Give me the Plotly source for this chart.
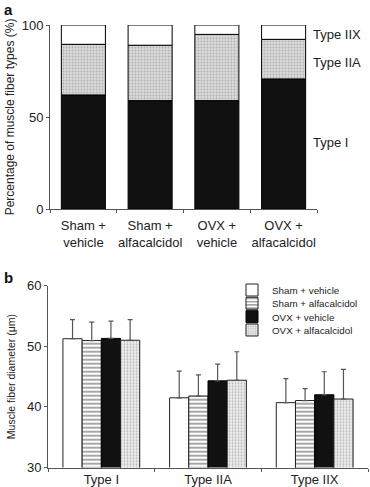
import plotly.graph_objects as go

# ---- Panel a data ----
groups_a = ["Sham +<br>vehicle", "Sham +<br>alfacalcidol", "OVX +<br>vehicle", "OVX +<br>alfacalcidol"]
type_I_pct = [62.0, 58.9, 58.9, 70.7]
type_IIA_pct = [27.5, 30.1, 36.0, 21.5]
type_IIX_pct = [10.5, 11.0, 5.1, 7.8]

# ---- Panel b data ----
fiber_types = ["Type I", "Type IIA", "Type IIX"]
series_names = ["Sham + vehicle", "Sham + alfacalcidol", "OVX + vehicle", "OVX + alfacalcidol"]
sham_vehicle = [51.25, 41.5, 40.7]
sham_vehicle_sd = [3.15, 4.4, 3.95]
sham_alfa = [50.95, 41.8, 41.05]
sham_alfa_sd = [3.05, 3.5, 1.95]
ovx_vehicle = [51.3, 44.3, 42.0]
ovx_vehicle_sd = [2.85, 2.75, 3.8]
ovx_alfa = [51.0, 44.4, 41.3]
ovx_alfa_sd = [3.4, 4.7, 4.9]

FONT = "Arial, Liberation Sans, sans-serif"
AX = "#555555"
W, H = 370, 487

fig = go.Figure()

# Panel a: stacked via base
base_IIA = [a for a in type_I_pct]
base_IIX = [a + b for a, b in zip(type_I_pct, type_IIA_pct)]
fig.add_trace(go.Bar(x=groups_a, y=type_I_pct, xaxis="x", yaxis="y", width=0.66,
                     offsetgroup="a", marker=dict(color="#111111", line=dict(color="#000", width=1)),
                     showlegend=False))
fig.add_trace(go.Bar(x=groups_a, y=type_IIA_pct, base=base_IIA, xaxis="x", yaxis="y", width=0.66,
                     offsetgroup="a",
                     marker=dict(color="#d4d4d4", line=dict(color="#000", width=1),
                                 pattern=dict(shape=".", fgcolor="#8a8a8a", bgcolor="#d9d9d9", size=3, solidity=0.3)),
                     showlegend=False))
fig.add_trace(go.Bar(x=groups_a, y=type_IIX_pct, base=base_IIX, xaxis="x", yaxis="y", width=0.66,
                     offsetgroup="a", marker=dict(color="white", line=dict(color="#000", width=1)),
                     showlegend=False))

# Panel b
def eb(sd):
    return dict(type="data", array=sd, arrayminus=[0] * len(sd), symmetric=False,
                color="#555555", thickness=1.2, width=2.5)

markers_b = [
    dict(color="white", line=dict(color="#222", width=1)),
    dict(color="white", line=dict(color="#222", width=1),
         pattern=dict(shape="-", fgcolor="#222", bgcolor="white", size=4, solidity=0.4)),
    dict(color="#111111", line=dict(color="#000", width=1)),
    dict(color="#e6e6e6", line=dict(color="#222", width=1),
         pattern=dict(shape=".", fgcolor="#777", bgcolor="#eeeeee", size=3, solidity=0.3)),
]
vals_b = [sham_vehicle, sham_alfa, ovx_vehicle, ovx_alfa]
sds_b = [sham_vehicle_sd, sham_alfa_sd, ovx_vehicle_sd, ovx_alfa_sd]
legend_ids = ["legend", "legend2", "legend3", "legend4"]
for i in range(4):
    fig.add_trace(go.Bar(name=series_names[i], x=fiber_types, y=vals_b[i], error_y=eb(sds_b[i]),
                         xaxis="x2", yaxis="y2", offsetgroup="b%d" % i, legend=legend_ids[i],
                         marker=markers_b[i]))

axis_common = dict(showline=True, linecolor=AX, linewidth=1, ticks="outside", tickcolor=AX,
                   ticklen=3, showgrid=False, zeroline=False, automargin=False,
                   tickfont=dict(family=FONT, size=13, color="#222"))

legend_style = dict(xanchor="left", yanchor="middle", bgcolor="rgba(0,0,0,0)",
                    font=dict(family=FONT, size=9.8, color="#222"), itemwidth=30,
                    borderwidth=0)
leg_y = [290, 303.3, 316.7, 330]

fig.update_layout(
    width=W, height=H, margin=dict(l=0, r=0, t=0, b=0),
    paper_bgcolor="white", plot_bgcolor="white",
    barmode="group", bargap=0.28, bargroupgap=0,
    font=dict(family=FONT, color="#222"),
    xaxis=dict(domain=[50 / W, 317 / W], anchor="y", tickson="boundaries", range=[-0.5, 3.5],
               tickangle=0, ticklabelstandoff=4, **axis_common),
    yaxis=dict(domain=[1 - 209 / H, 1 - 25 / H], anchor="x", range=[0, 100], tickvals=[0, 50, 100],
               title=dict(text="Percentage of muscle fiber types (%)", font=dict(family=FONT, size=12, color="#222"),
                          standoff=4),
               **axis_common),
    xaxis2=dict(domain=[48 / W, 368 / W], anchor="y2", tickson="boundaries", range=[-0.5, 2.5],
                tickangle=0, **axis_common),
    yaxis2=dict(domain=[1 - 467.5 / H, 1 - 285.7 / H], anchor="x2", range=[30, 60], tickvals=[30, 40, 50, 60],
                title=dict(text="Muscle fiber diameter (μm)", font=dict(family=FONT, size=10.5, color="#222"),
                           standoff=9),
                **axis_common),
    legend=dict(x=232 / W, y=1 - leg_y[0] / H, **legend_style),
    legend2=dict(x=232 / W, y=1 - leg_y[1] / H, **legend_style),
    legend3=dict(x=232 / W, y=1 - leg_y[2] / H, **legend_style),
    legend4=dict(x=232 / W, y=1 - leg_y[3] / H, **legend_style),
)

for txt, yp in [("Type IIX", 34), ("Type IIA", 63), ("Type I", 143)]:
    fig.add_annotation(text=txt, xref="paper", yref="paper", x=311 / W, y=1 - yp / H,
                       xanchor="left", yanchor="middle", showarrow=False,
                       font=dict(family=FONT, size=13, color="#222"))

fig.add_annotation(text="<b>a</b>", xref="paper", yref="paper", x=2 / W, y=1 - 10 / H,
                   xanchor="left", yanchor="middle", showarrow=False, font=dict(family=FONT, size=15, color="#111"))
fig.add_annotation(text="<b>b</b>", xref="paper", yref="paper", x=2 / W, y=1 - 277 / H,
                   xanchor="left", yanchor="middle", showarrow=False, font=dict(family=FONT, size=15, color="#111"))

fig.write_html("out.html", config={"displayModeBar": False},
               post_script="document.body.style.margin='0';document.body.style.overflow='hidden';")
